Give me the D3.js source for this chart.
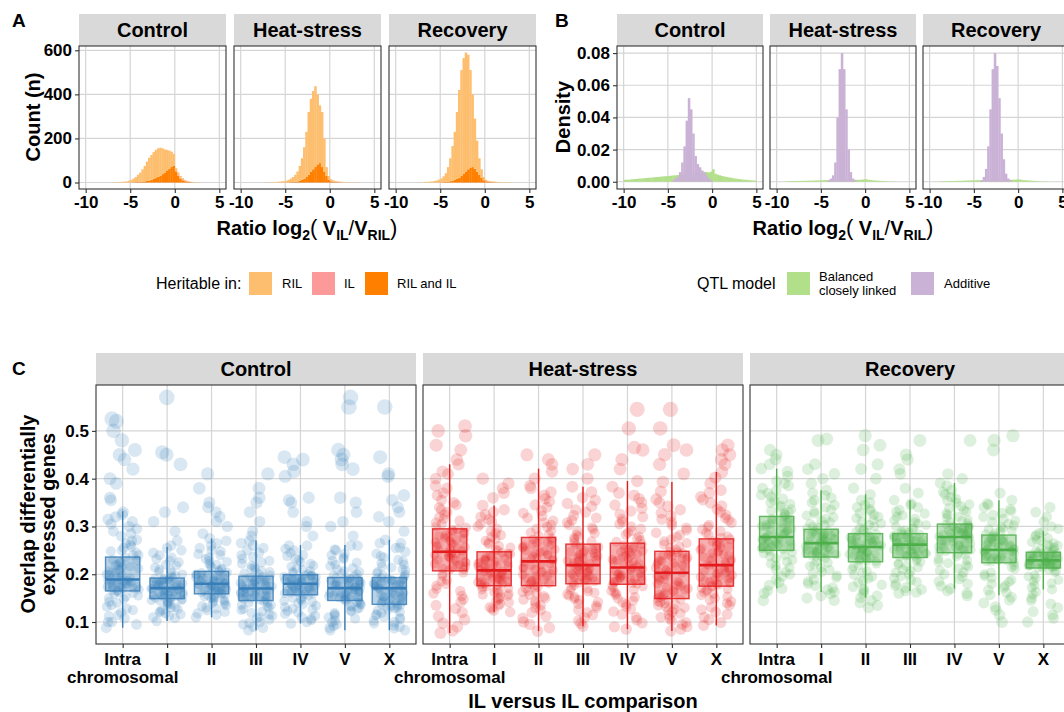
<!DOCTYPE html>
<html>
<head>
<meta charset="utf-8">
<script src="https://cdn.jsdelivr.net/npm/d3@7"></script>
<style>
body{margin:0;background:#fff;}
svg text{font-family:"Liberation Sans",Arial,Helvetica,sans-serif;fill:#000;}
</style>
</head>
<body>
<script>
var conditions=["Control","Heat-stress","Recovery"];

// ---- panel A : counts per 0.25 bin, first bin starts at -7
var binStartA=-7, binWidth=0.25;
var rilControl=[1,1,2,2,3,4,5,8,11,17,23,33,42,56,70,88,103,113,122,128,130,128,117,105,93,83,68,55,13,12,8,6,3,3,1,1,2,2,1,1];
var ilControl =[0,0,0,0,0,0,0,0,0,0,0,0,0,0,0,0,0,0,0,0,0,0,0,0,0,0,0,0,2,3,4,4,3,2,2,1,0,0,0,0];
var bothControl=[0,0,0,0,0,0,0,0,1,1,2,2,3,4,5,7,9,12,16,20,25,30,38,45,55,62,72,75,50,30,18,10,6,3,2,1,0,0,0,0];
var rilHeat=[1,1,2,2,3,4,5,6,7,11,16,23,32,45,67,98,143,205,285,332,355,365,318,262,250,150,40,16,7,5,3,3,2,2,2,2,1,1,1,1];
var ilHeat =[0,0,0,0,0,0,0,0,0,0,0,0,0,0,0,0,0,0,0,0,0,0,0,0,0,0,0,2,3,2,2,1,1,1,0,0,0,0,0,0];
var bothHeat=[0,0,0,0,0,0,0,0,1,1,2,2,3,5,8,12,17,25,35,48,60,72,82,88,70,50,30,12,5,3,2,1,1,0,0,0,0,0,0,0];
var rilRecovery=[2,3,3,4,5,7,9,12,17,26,39,66,104,157,218,304,398,480,525,540,520,442,330,228,142,75,38,14,5,3,3,3,3,3,2,2,1,1,1,1];
var ilRecovery =[0,0,0,0,0,0,0,0,0,0,0,0,0,0,0,0,0,0,0,0,0,0,0,0,0,0,0,1,2,2,1,1,0,0,0,0,0,0,0,0];
var bothRecovery=[0,0,0,0,0,0,0,1,1,2,3,4,6,8,12,16,22,30,40,50,60,68,70,62,48,35,22,10,5,3,2,1,1,0,0,0,0,0,0,0];
var heritKeys=["RIL","IL","RIL and IL"];

// ---- panel B : densities; green bins start at -10, purple bins start at -4.5
var greenStart=-10, purpleStart=-4.5;
var greenControl=[.0012,.0013,.0013,.0015,.0016,.0017,.0019,.002,.0021,.0022,.0024,.0025,.0026,.0027,.0029,.003,.0031,.0033,.0034,.0035,
  .0036,.0038,.0039,.004,.0042,.0044,.0045,.0047,.0049,.005,.0052,.0054,.0056,.0057,.0058,.006,.0061,.006,.0058,.0062,
  .0078,.005,.0044,.004,.0036,.0033,.003,.0027,.0025,.0022,.002,.0018,.0016,.0014,.0013,.0012,.001,.0009,.0008,.0007];
var greenHeat=[0,0,0,0,.0002,.0003,.0004,.0004,.0005,.0005,.0005,.0006,.0006,.0006,.0007,.0007,.0007,.0008,.0008,.0009,
  .0009,.001,.001,.001,.0011,.0011,.0011,.0012,.0012,.0012,.0012,.0012,.0012,.0012,.0012,.0012,.0012,.0012,.0013,.0014,
  .0016,.0012,.001,.0009,.0008,.0007,.0006,.0005,.0004,.0003,.0002,.0002,.0001,.0001,0,0,0,0,0,0];
var greenRecovery=[0,0,0,0,.0002,.0003,.0003,.0004,.0004,.0005,.0005,.0005,.0006,.0006,.0006,.0007,.0007,.0008,.0008,.0009,
  .0009,.001,.001,.001,.001,.0011,.0011,.0011,.0012,.0012,.0012,.0012,.0012,.0012,.0012,.0012,.0012,.0013,.0013,.0014,
  .0015,.0012,.001,.0009,.0008,.0007,.0006,.0005,.0004,.0003,.0002,.0002,.0001,.0001,0,0,0,0,0,0];
var purpleControl=[.001,.002,.003,.006,.012,.022,.038,.052,.045,.03,.016,.011,.009,.007,.006,.004,.002,.001];
var purpleHeat=[0,.001,.002,.004,.012,.04,.07,.08,.07,.045,.02,.006,.002,.001,0,0,0,0];
var purpleRecovery=[0,.001,.003,.008,.022,.045,.07,.08,.072,.052,.03,.014,.005,.002,.001,0,0,0];
var qtlKeys=["Balanced closely linked","Additive"];

// ---- panel C : overlap of differentially expressed genes
var chromCats=["Intra\nchromosomal","I","II","III","IV","V","X"];
var ovControl=[
 [.088,.095,.1,.108,.115,.12,.128,.135,.14,.148,.155,.16,.166,.168,.171,.173,.175,.177,.179,.181,.183,.185,.187,.188,.19,.193,.197,.2,.204,.208,.212,.216,.22,.225,.23,.235,.24,.245,.25,.258,.265,.272,.28,.29,.3,.31,.32,.33,.355,.36,.39,.4,.42,.44,.45,.46,.48,.5,.52,.525],
 [.102,.108,.113,.118,.122,.127,.131,.135,.139,.142,.145,.148,.15,.152,.154,.156,.158,.16,.162,.164,.166,.167,.169,.17,.172,.174,.176,.178,.18,.182,.184,.186,.187,.189,.19,.191,.195,.2,.205,.21,.218,.225,.235,.245,.255,.27,.29,.31,.33,.34,.43,.45,.455,.57],
 [.11,.118,.124,.13,.135,.14,.144,.148,.151,.154,.156,.158,.16,.162,.164,.166,.168,.17,.172,.174,.175,.177,.178,.179,.181,.183,.185,.187,.189,.191,.193,.195,.198,.2,.203,.205,.208,.212,.217,.222,.228,.235,.242,.25,.26,.27,.285,.3,.31,.32,.33,.34,.35,.38,.41],
 [.083,.09,.098,.105,.11,.116,.122,.127,.132,.136,.14,.143,.146,.148,.151,.153,.155,.157,.16,.162,.164,.166,.168,.169,.171,.173,.175,.177,.179,.181,.184,.186,.188,.19,.193,.195,.198,.202,.207,.212,.218,.225,.232,.24,.25,.26,.27,.28,.29,.31,.33,.35,.36,.38,.41],
 [.097,.104,.11,.117,.123,.128,.134,.139,.144,.148,.152,.155,.158,.16,.162,.164,.166,.168,.17,.172,.174,.176,.177,.179,.181,.182,.184,.186,.187,.189,.19,.192,.194,.195,.197,.198,.201,.205,.21,.216,.222,.23,.24,.25,.26,.28,.3,.31,.33,.35,.355,.36,.405,.415,.43,.44,.445],
 [.083,.092,.1,.107,.113,.119,.124,.129,.134,.138,.141,.144,.146,.148,.151,.153,.155,.157,.16,.162,.164,.166,.168,.17,.172,.174,.176,.178,.18,.182,.184,.186,.188,.19,.191,.192,.196,.2,.205,.21,.217,.224,.232,.24,.25,.26,.28,.3,.31,.33,.35,.36,.42,.43,.44,.45,.46,.55,.57],
 [.083,.09,.097,.103,.109,.114,.119,.124,.128,.131,.134,.136,.139,.142,.145,.148,.151,.154,.157,.16,.163,.166,.168,.17,.172,.174,.176,.178,.18,.182,.184,.186,.188,.19,.191,.192,.196,.2,.205,.21,.216,.223,.23,.238,.247,.256,.265,.272,.29,.31,.32,.33,.34,.355,.365,.405,.41,.445,.55]
];
var ovControlMore=[
 [.1,.112,.125,.132,.142,.15,.153,.158,.162,.164,.166,.17,.172,.174,.176,.18,.182,.184,.186,.188,.192,.195,.199,.203,.207,.211,.215,.219,.224,.229,.24,.248,.255,.262,.27,.285,.295,.305,.315,.325],
 [.11,.116,.12,.125,.13,.137,.14,.144,.146,.147,.15,.153,.155,.157,.159,.161,.163,.165,.168,.17,.173,.175,.177,.179,.181,.183,.185,.188,.19,.192,.197,.203,.208,.214,.22,.228,.232,.24,.25,.26],
 [.115,.121,.128,.133,.138,.142,.146,.15,.153,.157,.16,.163,.165,.167,.169,.171,.173,.176,.178,.18,.182,.184,.186,.188,.19,.192,.194,.197,.2,.204,.21,.215,.22,.226,.232,.24,.248,.255,.265,.275],
 [.088,.095,.1,.108,.113,.119,.125,.13,.135,.14,.147,.15,.152,.154,.156,.159,.161,.163,.165,.167,.172,.174,.176,.178,.18,.182,.185,.187,.19,.194,.2,.205,.21,.215,.222,.228,.236,.245,.255,.265],
 [.1,.107,.113,.12,.126,.131,.137,.142,.146,.15,.159,.161,.163,.165,.167,.169,.171,.173,.175,.178,.18,.183,.185,.186,.188,.19,.191,.193,.196,.198,.203,.207,.212,.218,.225,.232,.238,.245,.253,.26],
 [.088,.095,.103,.11,.116,.122,.127,.132,.136,.14,.147,.15,.152,.154,.156,.158,.161,.163,.165,.167,.173,.175,.177,.179,.181,.183,.185,.187,.189,.192,.198,.202,.207,.213,.22,.228,.235,.243,.252,.26],
 [.087,.093,.1,.106,.111,.116,.121,.126,.13,.133,.138,.141,.144,.147,.15,.153,.156,.159,.162,.165,.173,.175,.177,.179,.181,.183,.185,.187,.189,.191,.198,.202,.208,.214,.22,.227,.235,.243,.255,.265]
];
var ovHeat=[
 [.077,.09,.105,.12,.135,.148,.16,.17,.18,.188,.196,.203,.21,.214,.218,.222,.226,.23,.233,.236,.239,.242,.244,.246,.249,.253,.257,.261,.265,.27,.274,.278,.282,.286,.29,.294,.3,.308,.316,.325,.335,.345,.355,.37,.385,.4,.415,.43,.44,.46,.47,.49,.5,.51],
 [.121,.128,.135,.141,.147,.152,.157,.161,.165,.168,.171,.174,.178,.181,.184,.187,.19,.193,.196,.198,.2,.202,.204,.206,.21,.213,.216,.219,.222,.225,.228,.231,.235,.239,.242,.245,.25,.256,.263,.27,.278,.286,.295,.305,.315,.325,.335,.344,.36,.37,.38,.39,.4],
 [.081,.095,.108,.12,.13,.139,.147,.154,.16,.165,.17,.174,.179,.183,.188,.192,.197,.201,.206,.21,.214,.218,.222,.225,.229,.233,.238,.242,.246,.25,.255,.259,.263,.267,.271,.275,.28,.287,.295,.303,.312,.322,.333,.345,.358,.372,.385,.4,.415,.43,.44,.45],
 [.091,.103,.115,.125,.134,.142,.149,.155,.161,.167,.172,.177,.182,.185,.189,.192,.196,.199,.203,.206,.209,.212,.215,.218,.221,.224,.228,.231,.235,.238,.242,.245,.249,.253,.257,.261,.266,.272,.279,.286,.294,.303,.313,.323,.335,.348,.36,.372,.383,.4,.42,.43,.45],
 [.085,.098,.11,.122,.132,.141,.149,.156,.162,.167,.172,.176,.181,.184,.187,.19,.193,.196,.199,.202,.205,.208,.21,.213,.217,.221,.225,.229,.233,.238,.242,.247,.251,.255,.259,.263,.268,.275,.283,.291,.3,.31,.32,.332,.345,.358,.37,.383,.395,.42,.44,.46,.465,.505,.545],
 [.081,.09,.099,.107,.114,.121,.127,.132,.137,.141,.144,.147,.152,.157,.162,.167,.172,.177,.182,.187,.191,.195,.199,.202,.205,.209,.213,.217,.221,.225,.229,.233,.237,.241,.244,.247,.252,.258,.265,.273,.282,.292,.303,.315,.328,.342,.357,.373,.393,.41,.43,.45,.46,.47,.505,.545],
 [.093,.105,.116,.126,.135,.143,.15,.156,.162,.167,.171,.174,.178,.182,.186,.19,.194,.198,.202,.206,.209,.212,.215,.218,.222,.227,.231,.236,.241,.246,.251,.256,.26,.265,.269,.273,.279,.286,.294,.303,.313,.324,.336,.349,.362,.376,.39,.402,.414,.43,.44,.45,.46,.47]
];
var ovHeatMore=[
 [.082,.097,.112,.128,.142,.155,.165,.176,.185,.2,.208,.212,.216,.22,.224,.228,.232,.237,.24,.245,.25,.255,.259,.263,.267,.272,.276,.28,.285,.292,.298,.305,.312,.32,.33,.34,.35,.365,.38,.41],
 [.124,.131,.138,.144,.15,.155,.159,.163,.167,.173,.177,.18,.183,.186,.189,.192,.195,.197,.201,.205,.211,.214,.217,.22,.224,.227,.23,.233,.237,.243,.252,.259,.266,.274,.282,.29,.3,.31,.32,.33],
 [.088,.1,.112,.125,.135,.143,.15,.157,.163,.172,.177,.181,.186,.19,.195,.199,.204,.208,.212,.22,.231,.235,.24,.244,.248,.252,.257,.261,.265,.273,.283,.291,.299,.308,.318,.328,.34,.352,.365,.38],
 [.097,.109,.12,.13,.138,.146,.152,.158,.164,.17,.183,.187,.19,.194,.197,.201,.204,.208,.211,.216,.222,.226,.23,.233,.236,.24,.244,.247,.251,.259,.269,.276,.283,.29,.298,.308,.318,.33,.342,.355],
 [.09,.104,.116,.127,.137,.145,.152,.159,.165,.174,.18,.183,.186,.189,.192,.195,.198,.201,.204,.211,.219,.223,.227,.231,.236,.24,.245,.249,.253,.261,.271,.279,.287,.295,.305,.315,.326,.338,.35,.365],
 [.085,.095,.103,.11,.118,.124,.13,.135,.139,.143,.15,.155,.16,.165,.17,.175,.18,.185,.189,.197,.207,.211,.215,.219,.223,.227,.231,.235,.239,.246,.255,.262,.269,.278,.287,.297,.309,.322,.335,.35],
 [.099,.11,.121,.131,.139,.147,.153,.159,.165,.169,.176,.18,.184,.188,.192,.196,.2,.204,.208,.214,.22,.225,.229,.234,.239,.244,.249,.254,.258,.267,.276,.283,.29,.299,.308,.318,.33,.343,.356,.37]
];
var ovRecovery=[
 [.145,.16,.17,.183,.195,.205,.214,.222,.23,.237,.243,.248,.252,.255,.257,.26,.262,.264,.267,.269,.271,.273,.275,.277,.28,.284,.288,.291,.295,.299,.303,.306,.31,.313,.316,.32,.325,.33,.336,.343,.35,.358,.366,.375,.385,.395,.405,.415,.421,.43,.44,.45,.46],
 [.145,.155,.163,.172,.18,.189,.197,.205,.213,.22,.227,.233,.238,.241,.243,.246,.248,.251,.253,.256,.258,.26,.262,.264,.267,.269,.272,.274,.277,.279,.282,.284,.286,.288,.29,.293,.298,.303,.309,.316,.323,.331,.34,.35,.36,.37,.376,.39,.4,.41,.42,.43,.48,.483],
 [.13,.14,.151,.16,.169,.178,.187,.195,.203,.21,.216,.222,.228,.231,.234,.237,.24,.243,.246,.248,.25,.252,.254,.256,.259,.261,.263,.265,.267,.27,.272,.274,.277,.279,.281,.284,.289,.294,.3,.306,.313,.32,.328,.336,.345,.355,.367,.38,.4,.42,.43,.46,.47,.49],
 [.16,.165,.172,.18,.188,.196,.203,.21,.217,.223,.228,.232,.237,.239,.242,.244,.246,.249,.251,.253,.255,.257,.259,.261,.263,.265,.267,.269,.271,.273,.275,.277,.279,.281,.283,.284,.288,.292,.297,.303,.309,.316,.323,.331,.34,.348,.355,.37,.38,.41,.42,.44,.45,.48],
 [.155,.165,.175,.185,.195,.204,.212,.219,.226,.232,.237,.242,.248,.251,.254,.257,.26,.263,.265,.268,.27,.272,.275,.277,.28,.282,.284,.286,.288,.291,.293,.295,.297,.299,.301,.304,.309,.314,.32,.327,.334,.342,.35,.358,.367,.376,.385,.391,.4,.41,.48],
 [.1,.125,.14,.152,.162,.172,.18,.188,.196,.204,.211,.218,.226,.228,.231,.233,.236,.238,.241,.243,.245,.247,.249,.25,.253,.256,.258,.261,.264,.266,.269,.271,.274,.276,.279,.281,.286,.291,.296,.302,.309,.316,.324,.332,.34,.348,.355,.37,.46,.48,.49],
 [.1,.115,.13,.145,.158,.168,.177,.185,.192,.198,.204,.209,.214,.216,.217,.219,.22,.221,.222,.223,.224,.226,.227,.228,.23,.232,.233,.235,.236,.238,.239,.241,.242,.243,.244,.245,.248,.252,.256,.26,.265,.27,.276,.282,.29,.3,.31,.32,.33,.34]
];
var ovRecoveryMore=[
 [.165,.177,.189,.2,.21,.218,.226,.233,.24,.245,.251,.254,.256,.259,.261,.263,.266,.268,.27,.274,.279,.282,.286,.29,.293,.297,.301,.305,.308,.315,.323,.328,.333,.34,.347,.354,.362,.37,.38,.39],
 [.15,.159,.168,.176,.185,.193,.201,.209,.217,.224,.237,.239,.242,.244,.247,.249,.252,.255,.257,.261,.266,.268,.27,.273,.275,.278,.28,.283,.285,.289,.296,.3,.306,.312,.319,.327,.335,.345,.355,.365],
 [.135,.145,.155,.165,.174,.183,.191,.199,.207,.218,.227,.23,.233,.236,.239,.242,.245,.247,.249,.253,.258,.26,.262,.264,.266,.268,.271,.273,.276,.28,.287,.292,.297,.303,.31,.317,.324,.332,.34,.35],
 [.162,.168,.176,.184,.192,.2,.207,.214,.22,.226,.236,.238,.24,.243,.245,.248,.25,.252,.254,.258,.262,.264,.266,.268,.27,.272,.274,.276,.278,.282,.286,.29,.295,.3,.306,.313,.32,.327,.335,.345],
 [.16,.17,.18,.19,.2,.208,.216,.223,.229,.24,.246,.249,.252,.255,.258,.261,.264,.267,.271,.274,.279,.281,.283,.285,.287,.289,.292,.294,.298,.302,.307,.312,.318,.324,.331,.338,.346,.354,.362,.372],
 [.115,.132,.146,.157,.167,.176,.184,.192,.2,.214,.225,.227,.229,.232,.234,.237,.239,.242,.244,.248,.252,.254,.257,.26,.262,.265,.268,.27,.273,.278,.284,.289,.294,.299,.305,.312,.32,.328,.336,.345],
 [.108,.122,.138,.15,.163,.172,.181,.188,.195,.206,.213,.215,.216,.218,.219,.22,.221,.222,.224,.225,.229,.231,.232,.234,.235,.237,.238,.24,.241,.244,.247,.25,.254,.258,.262,.267,.272,.279,.286,.295]
];
// box stats: [whisker low, q1, median, q3, whisker high]
var boxControl=[[.088,.165,.189,.236,.332],[.102,.149,.171,.192,.257],[.11,.159,.18,.206,.275],[.083,.145,.17,.196,.271],[.097,.157,.18,.199,.261],[.083,.145,.171,.193,.261],[.083,.137,.171,.193,.272]];
var boxHeat=[[.077,.207,.247,.295,.43],[.121,.176,.208,.247,.344],[.081,.176,.227,.277,.421],[.091,.18,.219,.263,.383],[.085,.179,.214,.265,.395],[.081,.149,.203,.248,.393],[.093,.175,.219,.274,.414]];
var boxRecovery=[[.17,.25,.278,.321,.421],[.163,.236,.265,.294,.376],[.151,.226,.257,.285,.367],[.165,.235,.262,.285,.355],[.17,.245,.278,.305,.391],[.156,.224,.251,.282,.355],[.168,.213,.229,.246,.29]];

var W=1064,H=712;
var gridCol="#d5d5d5", borderCol="#333333", stripCol="#d9d9d9";
var heritCol=["#fdbf6f","#fb9a99","#ff7f00"];
var qtlCol=["#b2df8a","#cab2d6"];
var condCol=["#377eb8","#e41a1c","#4daf4a"];

var svg=d3.select("body").append("svg").attr("width",W).attr("height",H);

function strip(x,y,w,h,label){
  svg.append("rect").attr("x",x).attr("y",y).attr("width",w).attr("height",h).attr("fill",stripCol);
  svg.append("text").attr("x",x+w/2).attr("y",y+h/2+7).attr("text-anchor","middle")
    .attr("font-size",20).attr("font-weight","bold").text(label);
}
function styleAxis(g){
  g.select(".domain").remove();
  g.selectAll(".tick line").attr("stroke",borderCol).attr("stroke-width",1.1);
  g.selectAll(".tick text").attr("font-size",17).attr("font-weight","bold").attr("fill","#000")
    .attr("font-family",'"Liberation Sans",Arial,sans-serif');
}
function border(x,y,w,h){
  svg.append("rect").attr("x",x).attr("y",y).attr("width",w).attr("height",h)
    .attr("fill","none").attr("stroke",borderCol).attr("stroke-width",1.1);
}
function grid(x,y,w,h,xs,xt,ys,yt){
  var g=svg.append("g");
  g.selectAll(".gv").data(xt).enter().append("line").attr("x1",d=>xs(d)).attr("x2",d=>xs(d))
    .attr("y1",y).attr("y2",y+h).attr("stroke",gridCol).attr("stroke-width",1.2);
  g.selectAll(".gh").data(yt).enter().append("line").attr("y1",d=>ys(d)).attr("y2",d=>ys(d))
    .attr("x1",x).attr("x2",x+w).attr("stroke",gridCol).attr("stroke-width",1.2);
}
function ratioTitle(cx,y){
  var t=svg.append("text").attr("x",cx).attr("y",y).attr("text-anchor","middle").attr("font-size",20).attr("font-weight","bold");
  t.append("tspan").text("Ratio log");
  t.append("tspan").attr("font-size",14).attr("dy",5).text("2");
  t.append("tspan").attr("dy",-5).attr("font-weight","normal").attr("font-size",22).text("(");
  t.append("tspan").text(" V");
  t.append("tspan").attr("font-size",14).attr("dy",5).text("IL");
  t.append("tspan").attr("dy",-5).attr("font-weight","normal").text("/");
  t.append("tspan").text("V");
  t.append("tspan").attr("font-size",14).attr("dy",5).text("RIL");
  t.append("tspan").attr("dy",-5).attr("font-weight","normal").attr("font-size",22).text(")");
}
var xTicks=[-10,-5,0,5];

// ================= panel A =================
var aX0=[79,234,389], aW=147, aTop=46, aBot=189;
var aRil=[rilControl,rilHeat,rilRecovery], aIl=[ilControl,ilHeat,ilRecovery], aBoth=[bothControl,bothHeat,bothRecovery];
var yA=d3.scaleLinear().domain([-29.5,619.5]).range([aBot,aTop]);
conditions.forEach(function(cond,i){
  var x0=aX0[i];
  var xs=d3.scaleLinear().domain([-10.75,5.75]).range([x0,x0+aW]);
  strip(x0,14,aW,32,cond);
  grid(x0,aTop,aW,aBot-aTop,xs,xTicks,yA,[0,200,400,600]);
  var rows=aRil[i].map(function(v,j){
    return {x:binStartA+j*binWidth, both:aBoth[i][j], il:aIl[i][j], ril:v};
  });
  var series=d3.stack().keys(["both","il","ril"])(rows);
  var cols={both:heritCol[2],il:heritCol[1],ril:heritCol[0]};
  series.forEach(function(s){
    svg.append("g").selectAll("rect").data(s.filter(d=>d[1]>d[0])).enter().append("rect")
      .attr("x",d=>xs(d.data.x)).attr("width",d=>xs(d.data.x+binWidth)-xs(d.data.x)+0.3)
      .attr("y",d=>yA(d[1])).attr("height",d=>yA(d[0])-yA(d[1])).attr("fill",cols[s.key]);
  });
  border(x0,aTop,aW,aBot-aTop);
  var gx=svg.append("g").attr("transform","translate(0,"+aBot+")")
    .call(d3.axisBottom(xs).tickValues(xTicks).tickSize(4).tickFormat(d=>String(d)));
  styleAxis(gx);
  if(i===0){
    var gy=svg.append("g").attr("transform","translate("+x0+",0)")
      .call(d3.axisLeft(yA).tickValues([0,200,400,600]).tickSize(4));
    styleAxis(gy);
  }
});
svg.append("text").attr("x",12).attr("y",27).attr("font-size",19).attr("font-weight","bold").text("A");
svg.append("text").attr("transform","translate(40,117) rotate(-90)").attr("text-anchor","middle")
  .attr("font-size",20).attr("font-weight","bold").text("Count (n)");
ratioTitle(307,235);

// legend A
svg.append("text").attr("x",156).attr("y",289).attr("font-size",16).text("Heritable in:");
var legA=[249,312,365], legAl=[282,344,397];
heritKeys.forEach(function(k,i){
  svg.append("rect").attr("x",legA[i]).attr("y",272).attr("width",23).attr("height",23).attr("fill",heritCol[i]);
  svg.append("text").attr("x",legAl[i]).attr("y",288).attr("font-size",13).text(k);
});

// ================= panel B =================
var bX0=[617,770,923], bW=146, bTop=46, bBot=189;
var bGreen=[greenControl,greenHeat,greenRecovery], bPurple=[purpleControl,purpleHeat,purpleRecovery];
var yB=d3.scaleLinear().domain([-0.0045,0.0844]).range([bBot,bTop]);
conditions.forEach(function(cond,i){
  var x0=bX0[i];
  var xs=d3.scaleLinear().domain([-10.75,5.75]).range([x0,x0+bW]);
  strip(x0,14,bW,32,cond);
  grid(x0,bTop,bW,bBot-bTop,xs,xTicks,yB,[0,0.02,0.04,0.06,0.08]);
  svg.append("g").selectAll("rect").data(bGreen[i]).enter().append("rect")
    .attr("x",(d,j)=>xs(greenStart+j*binWidth)).attr("width",xs(binWidth)-xs(0)+0.3)
    .attr("y",d=>yB(d)).attr("height",d=>yB(0)-yB(d)).attr("fill",qtlCol[0]);
  svg.append("g").selectAll("rect").data(bPurple[i]).enter().append("rect")
    .attr("x",(d,j)=>xs(purpleStart+j*binWidth)).attr("width",xs(binWidth)-xs(0)+0.3)
    .attr("y",d=>yB(d)).attr("height",d=>yB(0)-yB(d)).attr("fill",qtlCol[1]);
  border(x0,bTop,bW,bBot-bTop);
  var gx=svg.append("g").attr("transform","translate(0,"+bBot+")")
    .call(d3.axisBottom(xs).tickValues(xTicks).tickSize(4).tickFormat(d=>String(d)));
  styleAxis(gx);
  if(i===0){
    var gy=svg.append("g").attr("transform","translate("+x0+",0)")
      .call(d3.axisLeft(yB).tickValues([0,0.02,0.04,0.06,0.08]).tickSize(4).tickFormat(d3.format(".2f")));
    styleAxis(gy);
  }
});
svg.append("text").attr("x",555).attr("y",27).attr("font-size",19).attr("font-weight","bold").text("B");
svg.append("text").attr("transform","translate(570,117) rotate(-90)").attr("text-anchor","middle")
  .attr("font-size",20).attr("font-weight","bold").text("Density");
ratioTitle(843,235);

// legend B
svg.append("text").attr("x",697).attr("y",289).attr("font-size",16).text("QTL model");
svg.append("rect").attr("x",787).attr("y",272).attr("width",23).attr("height",23).attr("fill",qtlCol[0]);
svg.append("text").attr("x",819).attr("y",281).attr("font-size",13).text("Balanced");
svg.append("text").attr("x",819).attr("y",295).attr("font-size",13).text("closely linked");
svg.append("rect").attr("x",911).attr("y",272).attr("width",23).attr("height",23).attr("fill",qtlCol[1]);
svg.append("text").attr("x",944).attr("y",288).attr("font-size",13).text(qtlKeys[1]);

// ================= panel C =================
var cX0=[96,423,750], cW=320, cTop=385, cBot=644;
var ovAll=[ovControl,ovHeat,ovRecovery], ovMore=[ovControlMore,ovHeatMore,ovRecoveryMore];
var boxAll=[boxControl,boxHeat,boxRecovery];
var yC=d3.scaleLinear().domain([0.054,0.596]).range([cBot,cTop]);
var rScale=d3.scaleLinear().domain([0,0.36]).range([4.5,7.8]).clamp(true);
var cTicks=[0.1,0.2,0.3,0.4,0.5];
// jitter offset in [-0.5,0.5), deterministic per point
function jit(n,j,k){ var s=Math.sin(n*12.9898+j*78.233+k*37.719)*43758.5453; return s-Math.floor(s)-0.5; }
conditions.forEach(function(cond,k){
  var x0=cX0[k], col=condCol[k];
  var xp=d3.scalePoint().domain(chromCats).range([x0,x0+cW]).padding(0.6);
  var step=xp.step(), bw=step*0.77;
  strip(x0,353,cW,32,cond);
  grid(x0,cTop,cW,cBot-cTop,xp,chromCats,yC,cTicks);
  var pg=svg.append("g");
  chromCats.forEach(function(cat,j){
    var med=boxAll[k][j][2];
    var vals=ovAll[k][j].concat(ovMore[k][j]);
    pg.selectAll(null).data(vals).enter().append("circle")
      .attr("cx",(d,n)=>xp(cat)+jit(n,j,k)*0.74*step)
      .attr("cy",d=>yC(d)).attr("r",d=>rScale(Math.abs(d-med)))
      .attr("fill",col).attr("fill-opacity",0.19);
  });
  var bg=svg.append("g");
  bg.selectAll(".wh").data(boxAll[k]).enter().append("line")
    .attr("x1",(d,j)=>xp(chromCats[j])).attr("x2",(d,j)=>xp(chromCats[j]))
    .attr("y1",d=>yC(d[4])).attr("y2",d=>yC(d[0])).attr("stroke",col).attr("stroke-width",1.4);
  bg.selectAll(".bx").data(boxAll[k]).enter().append("rect")
    .attr("x",(d,j)=>xp(chromCats[j])-bw/2).attr("width",bw)
    .attr("y",d=>yC(d[3])).attr("height",d=>yC(d[1])-yC(d[3]))
    .attr("fill",col).attr("fill-opacity",0.35).attr("stroke",col).attr("stroke-opacity",0.85).attr("stroke-width",1.4);
  bg.selectAll(".md").data(boxAll[k]).enter().append("line")
    .attr("x1",(d,j)=>xp(chromCats[j])-bw/2).attr("x2",(d,j)=>xp(chromCats[j])+bw/2)
    .attr("y1",d=>yC(d[2])).attr("y2",d=>yC(d[2])).attr("stroke",col).attr("stroke-width",2.6);
  border(x0,cTop,cW,cBot-cTop);
  var gx=svg.append("g").attr("transform","translate(0,"+cBot+")")
    .call(d3.axisBottom(xp).tickSize(4).tickFormat(""));
  styleAxis(gx);
  chromCats.forEach(function(cat){
    var parts=cat.split("\n");
    parts.forEach(function(p,m){
      svg.append("text").attr("x",xp(cat)).attr("y",665+m*18).attr("text-anchor","middle")
        .attr("font-size",17).attr("font-weight","bold").text(p);
    });
  });
  if(k===0){
    var gy=svg.append("g").attr("transform","translate("+x0+",0)")
      .call(d3.axisLeft(yC).tickValues(cTicks).tickSize(4).tickFormat(d3.format(".1f")));
    styleAxis(gy);
  }
});
svg.append("text").attr("x",12).attr("y",375).attr("font-size",19).attr("font-weight","bold").text("C");
svg.append("text").attr("transform","translate(35,514) rotate(-90)").attr("text-anchor","middle")
  .attr("font-size",20).attr("font-weight","bold").text("Overlap differentially");
svg.append("text").attr("transform","translate(55,514) rotate(-90)").attr("text-anchor","middle")
  .attr("font-size",20).attr("font-weight","bold").text("expressed genes");
svg.append("text").attr("x",583).attr("y",708).attr("text-anchor","middle")
  .attr("font-size",20).attr("font-weight","bold").text("IL versus IL comparison");
</script>
</body>
</html>
